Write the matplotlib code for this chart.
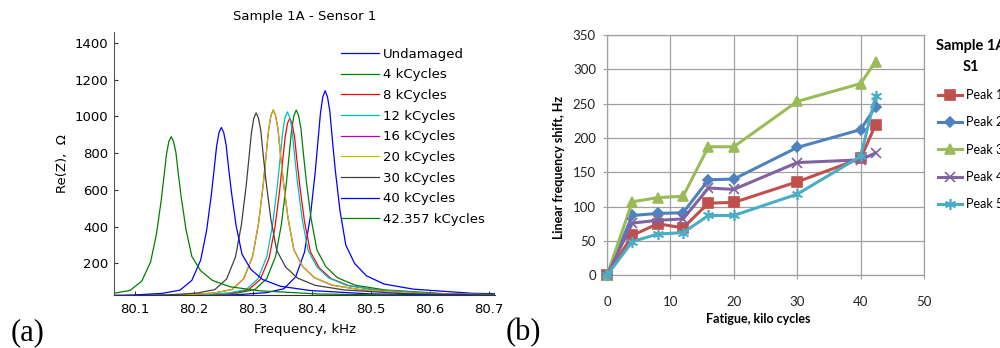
import matplotlib
matplotlib.use("Agg")
import matplotlib.pyplot as plt
import numpy as np

# ---- panel (a): impedance spectra ----
curve_labels = ["Undamaged", "4 kCycles", "8 kCycles", "12 kCycles", "16 kCycles",
                "20 kCycles", "30 kCycles", "40 kCycles", "42.357 kCycles"]
curve_colors = ["#0000ff", "#008000", "#ff0000", "#00bfbf", "#bf00bf",
                "#bfbf00", "#404040", "#0000ff", "#008000"]
peak_freq = [80.422, 80.373, 80.362, 80.358, 80.334, 80.334, 80.305, 80.246, 80.161]
peak_rez = [1140, 1035, 990, 1025, 1035, 1035, 1020, 940, 890]
baseline_rez = 20
# resonance shape: offset from peak (kHz) vs fraction of peak height,
# low-frequency side and high-frequency side (the high side has the heavier tail)
profile_offset = [0, 0.004, 0.008, 0.012, 0.017, 0.025, 0.035, 0.05, 0.07, 0.1, 0.15, 0.25, 0.4, 0.7]
profile_left = [1.0, 0.97, 0.89, 0.76, 0.6, 0.39, 0.215, 0.095, 0.037, 0.018, 0.008, 0.003, 0.001, 0.0]
profile_right = [1.0, 0.97, 0.9, 0.77, 0.62, 0.42, 0.25, 0.16, 0.1, 0.06, 0.035, 0.015, 0.007, 0.002]

# ---- panel (b): frequency shift vs fatigue ----
fatigue_kc = [0, 4, 8, 12, 16, 20, 30, 40, 42.357]
peak1 = [0, 58, 75, 69, 105, 106, 136, 170, 219]
peak2 = [0, 87, 90, 91, 139, 140, 186, 212, 245]
peak3 = [0, 107, 113, 115, 187, 187, 253, 279, 311]
peak4 = [0, 76, 80, 82, 127, 125, 164, 168, 178]
peak5 = [0, 49, 60, 62, 87, 87, 118, 173, 261]

fig = plt.figure(figsize=(10, 3.48), dpi=100)

# (a)
ax1 = fig.add_axes([0.114, 0.152, 0.381, 0.756])
off = np.array(profile_offset)
x_rel = np.concatenate([-off[::-1], off[1:]])
f_rel = np.concatenate([np.array(profile_left)[::-1], np.array(profile_right)[1:]])
for lab, col, f0, pk in zip(curve_labels, curve_colors, peak_freq, peak_rez):
    ax1.plot(f0 + x_rel, baseline_rez + (pk - baseline_rez) * f_rel,
             color=col, lw=0.9, label=lab)
ax1.set_xlim(80.064, 80.71)
ax1.set_ylim(27, 1460)
ax1.set_xticks([80.1, 80.2, 80.3, 80.4, 80.5, 80.6, 80.7])
ax1.set_yticks([200, 400, 600, 800, 1000, 1200, 1400])
ax1.spines["top"].set_visible(False)
ax1.spines["right"].set_visible(False)
ax1.spines["left"].set_color("#555555")
ax1.spines["bottom"].set_color("#333333")
ax1.tick_params(axis="x", direction="in", length=3, labelsize=9.5, pad=6, color="#333333")
ax1.tick_params(axis="y", direction="in", length=3, labelsize=9.5, pad=4, color="#333333")
ax1.set_xlabel("Frequency, kHz", fontsize=9.5, labelpad=5)
ax1.set_ylabel("Re(Z),  Ω", fontsize=9.5, labelpad=4)
ax1.set_title("Sample 1A - Sensor 1", fontsize=9.5, pad=8.5)
ax1.legend(loc="upper left", bbox_to_anchor=(0.341, 0.863), bbox_transform=fig.transFigure,
           frameon=False, fontsize=9.5, handlelength=2.9, handletextpad=0.3,
           labelspacing=0.58, borderpad=0, borderaxespad=0)
fig.text(0.011, 0.045, "(a)", fontsize=22, family="Liberation Serif", va="center")

# (b)
ax2 = fig.add_axes([0.607, 0.209, 0.317, 0.691])
series = [("Peak 1", peak1, "#c0504d", "s", 6.5),
          ("Peak 2", peak2, "#4f81bd", "D", 5.5),
          ("Peak 3", peak3, "#9bbb59", "^", 7),
          ("Peak 4", peak4, "#8064a2", "x", 7),
          ("Peak 5", peak5, "#4bacc6", (6, 2, 0), 8)]
for lab, vals, col, mk, ms in series:
    ax2.plot(fatigue_kc, vals, color=col, lw=2.2, marker=mk, markersize=ms,
             markeredgecolor=col, markeredgewidth=1.2, label=lab, clip_on=False, zorder=3)
ax2.set_xlim(0, 50)
ax2.set_ylim(0, 350)
ax2.set_xticks(range(0, 51, 10))
ax2.set_yticks(range(0, 351, 50))
ax2.grid(True, color="#a0a0a0", lw=0.9)
ax2.set_axisbelow(True)
for s in ax2.spines.values():
    s.set_color("#a0a0a0")
    s.set_linewidth(0.9)
ax2.tick_params(axis="x", direction="out", length=3, pad=12, labelsize=9.5,
                color="#a0a0a0", labelcolor="#222222")
ax2.tick_params(axis="y", direction="out", length=3, pad=5, labelsize=9.5,
                color="#a0a0a0", labelcolor="#222222")
for t in ax2.get_xticklabels() + ax2.get_yticklabels():
    t.set_family("Lato")
ax2.set_xlabel("Fatigue, kilo cycles", fontsize=9, fontweight="bold", family="Lato")
ax2.set_ylabel("Linear frequency shift, Hz", fontsize=9, fontweight="bold", family="Lato")
ax2.xaxis.set_label_coords(0.477, -0.157)
ax2.yaxis.set_label_coords(-0.133, 0.45)
leg = ax2.legend(loc="upper left", bbox_to_anchor=(0.936, 0.888), bbox_transform=fig.transFigure,
                 frameon=False, title="Sample 1A\nS1", prop={"family": "Lato", "size": 9},
                 title_fontproperties={"family": "Lato", "size": 10.5, "weight": "bold"},
                 handlelength=1.9, handletextpad=0.3, labelspacing=1.23, borderpad=0,
                 borderaxespad=0)
leg.get_title().set_multialignment("center")
leg.get_title().set_linespacing(1.6)
fig.text(0.506, 0.045, "(b)", fontsize=22, family="Liberation Serif", va="center")

fig.savefig("out.png", dpi=100)
